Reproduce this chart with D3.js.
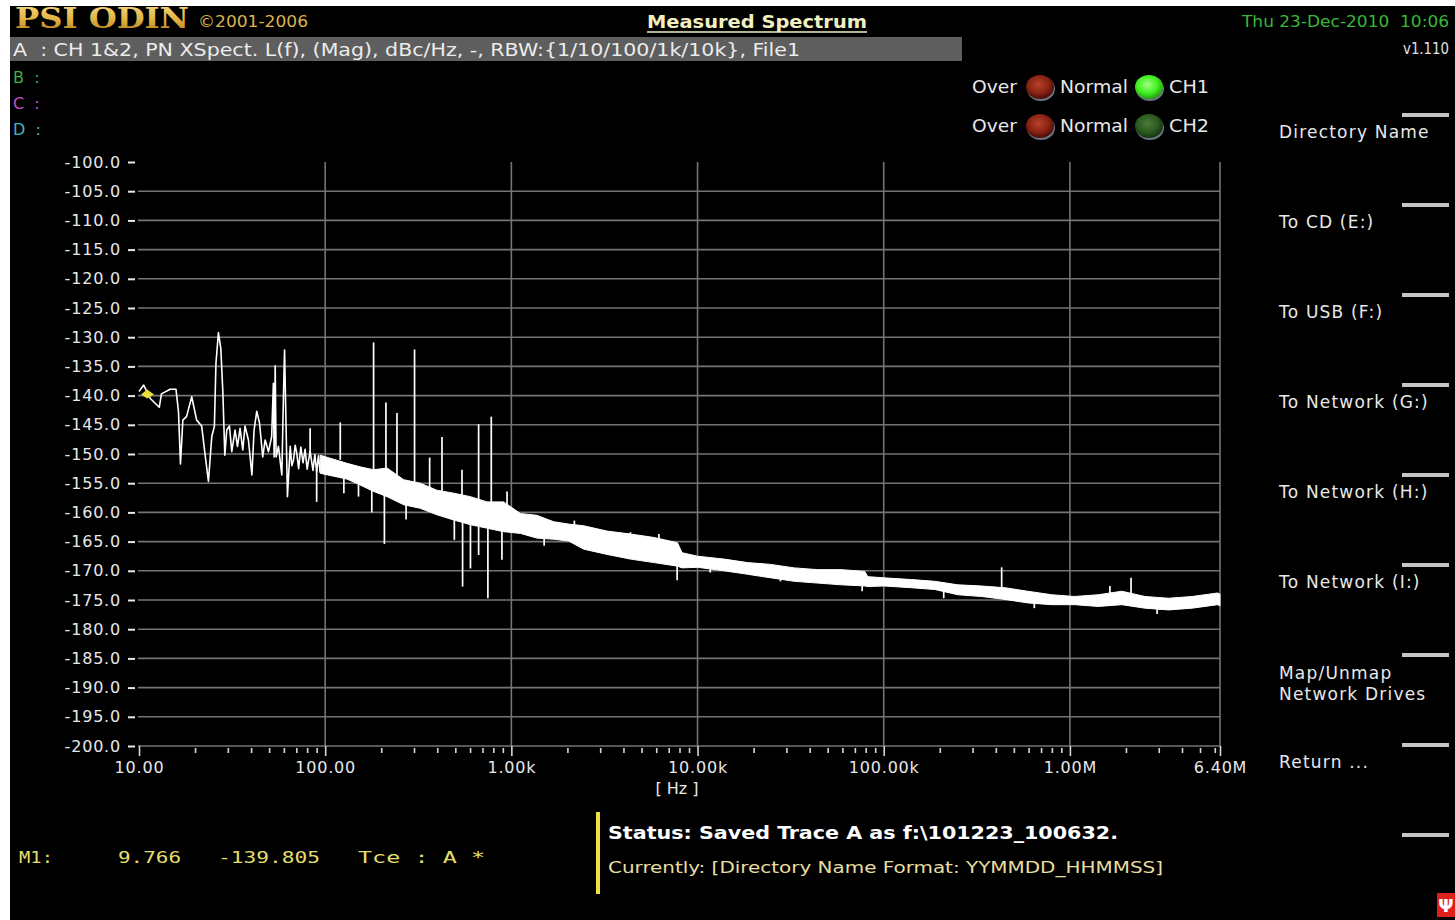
<!DOCTYPE html>
<html>
<head>
<meta charset="utf-8">
<script src="https://cdn.jsdelivr.net/npm/d3@7"></script>
<style>
html, body { margin: 0; padding: 0; background: #fff; }
svg { display: block; font-family: "DejaVu Sans", sans-serif; }
text { white-space: pre; }
</style>
</head>
<body>
<svg id="screen" width="1455" height="920"></svg>
<script>
// axis ticks
const xTicks = [10, 100, 1e3, 1e4, 1e5, 1e6, 6.4e6];
const xTickLabels = ['10.00', '100.00', '1.00k', '10.00k', '100.00k', '1.00M', '6.40M'];
const xMinorTicks = [20, 30, 40, 50, 60, 70, 80, 90,
	200, 300, 400, 500, 600, 700, 800, 900,
	2e3, 3e3, 4e3, 5e3, 6e3, 7e3, 8e3, 9e3,
	2e4, 3e4, 4e4, 5e4, 6e4, 7e4, 8e4, 9e4,
	2e5, 3e5, 4e5, 5e5, 6e5, 7e5, 8e5, 9e5,
	2e6, 3e6, 4e6, 5e6, 6e6];
const xGrid = [100, 1e3, 1e4, 1e5, 1e6, 6.4e6];
const yTicks = [-100, -105, -110, -115, -120, -125, -130, -135, -140, -145, -150,
	-155, -160, -165, -170, -175, -180, -185, -190, -195, -200];

// low offset trace, 10 Hz .. ~95 Hz  [Hz, dBc/Hz]
const lowTrace = [
	[10.0, -139.3], [10.6, -138.2], [11.5, -140.5], [12.85, -142.0], [13.2, -139.7],
	[14.7, -138.9], [15.8, -138.9], [16.3, -142.8], [16.7, -151.7], [17.2, -144.2],
	[18.0, -143.6], [19.2, -140.2], [20.4, -144.2], [21.7, -145.2], [22.6, -149.9],
	[23.6, -154.7], [24.6, -147.0], [25.4, -145.3], [25.9, -134.5], [26.7, -129.2],
	[27.5, -131.9], [28.2, -139.3], [28.9, -150.2], [29.6, -145.9], [30.6, -145.2],
	[31.5, -149.6], [32.8, -145.9], [33.8, -148.7], [34.9, -145.6], [36.1, -149.3],
	[37.1, -145.2], [38.7, -147.6], [40.4, -153.6], [41.5, -145.9], [42.9, -142.7],
	[44.4, -144.7], [46.2, -150.5], [47.6, -147.6], [49.6, -149.6], [51.6, -147.0],
	[52.7, -137.9], [53.2, -150.5], [53.9, -134.9], [54.5, -150.5], [56.1, -148.7],
	[58.5, -153.6], [59.7, -139.9], [60.5, -132.2], [61.5, -143.6], [62.7, -157.3],
	[64.9, -148.7], [66.2, -152.0], [67.6, -151.0], [69.0, -148.5], [70.4, -149.9],
	[72.0, -152.5], [74.0, -148.8], [76.0, -151.5], [78.0, -149.2], [80.0, -152.6],
	[83.0, -149.5], [86.0, -152.8], [88.0, -150.1], [90.0, -153.0], [92.0, -150.3],
	[94.0, -153.2]
];

// dense noise band: frequency, upper and lower edge
const bandFreq = [94, 111, 131, 154, 182, 215, 264, 324, 398, 490, 602, 740, 909,
	1120, 1370, 1690, 2030, 2450, 3270, 4360, 5850, 7800, 8260, 10000, 13900, 18600, 24700,
	33100, 44200, 59100, 79100, 82000, 100000, 141000, 188000, 250000, 335000, 448000,
	594000, 798000, 1.06e6, 1.42e6, 1.9e6, 2.53e6, 3.39e6, 4.53e6, 6.22e6, 6.4e6];
const bandTop = [-150.2, -150.9, -151.6, -152.2, -152.7, -152.4, -154.4, -155.0,
	-156.2, -156.7, -157.3, -158.2, -158.2, -160.2, -160.5, -161.6, -162.0, -162.3, -163.2,
	-163.7, -164.3, -165.2, -166.9, -167.5, -168.0, -168.6, -168.9, -169.5, -169.8, -169.8,
	-170.1, -171.0, -171.2, -171.5, -171.8, -172.4, -172.6, -172.9, -173.5, -174.1, -174.4,
	-174.1, -173.5, -174.4, -174.7, -174.4, -173.8, -174.0];
const bandBottom = [-153.3, -153.8, -154.3, -155.3, -156.4, -157.3, -158.7, -159.3,
	-160.4, -161.3, -162.1, -162.7, -163.3, -163.6, -164.4, -164.6, -164.9, -166.3, -167.2,
	-168.0, -168.6, -169.2, -169.5, -169.4, -170.0, -170.6, -171.2, -171.8, -172.1, -172.4,
	-172.6, -172.7, -172.6, -172.9, -173.2, -174.1, -174.4, -174.9, -175.5, -175.8, -175.8,
	-176.1, -175.8, -176.4, -176.7, -176.4, -175.8, -176.0];

// spurs rising out of the band
const spurFreq = [83, 120.5, 182, 212, 243, 302, 364, 424, 543, 667, 780, 948, 2180, 4360, 6200,
	82000, 430000, 1.64e6, 2.13e6];
const spurPeak = [-145.6, -144.6, -130.9, -141.2, -143.0, -132.1, -150.6, -147.1, -152.7, -144.9,
	-143.6, -156.4, -161.4, -163.4, -163.7, -171.0, -169.4, -172.6, -171.2];
const spurBase = [-150, -151, -153, -153, -154, -155, -156, -157, -157.5, -158, -158.5, -159,
	-162.5, -164, -165, -171.5, -173.5, -174.5, -174.5];

// downward dips below the band
const dipFreq = [90, 126, 151, 178, 208, 272, 494, 547, 603, 667, 748, 890, 1500, 7770, 11700,
	27900, 76600, 210000, 644000, 2.94e6];
const dipLow = [-158.2, -156.7, -157.3, -160.0, -165.4, -161.2, -164.7, -172.7, -169.6, -167.3,
	-174.7, -168.1, -165.7, -171.6, -170.3, -171.8, -173.5, -174.7, -176.4, -177.4];
const dipBase = [-152.5, -153.5, -154.5, -156, -157, -158.5, -161, -161.5, -162, -162.5, -162.7,
	-163.2, -164.2, -169, -169.5, -171, -172.5, -173.5, -175.5, -176.5];

const markerFreq = 9.766;
const markerLevel = -139.805;

const menuItems = [['Directory Name'], ['To CD (E:)'], ['To USB (F:)'], ['To Network (G:)'],
	['To Network (H:)'], ['To Network (I:)'], ['Map/Unmap', 'Network Drives'], ['Return ...']];

const svg = d3.select('#screen');

const x = d3.scaleLog().domain([10, 6.4e6]).range([139, 1220]);
const y = d3.scaleLinear().domain([-200, -100]).range([746, 162]);

const gridColor = '#747474';
const labelColor = '#e8e8e8';

// screen background (thin white border at top/left of the photo)
svg.append('rect').attr('width', 1455).attr('height', 920).attr('fill', '#fff');
svg.append('rect').attr('x', 10).attr('y', 6).attr('width', 1445).attr('height', 914).attr('fill', '#000');

let defs = svg.append('defs');
let gold = defs.append('linearGradient').attr('id', 'gold').attr('x1', 0).attr('y1', 0).attr('x2', 0).attr('y2', 1);
gold.append('stop').attr('offset', '0%').attr('stop-color', '#f6dc84');
gold.append('stop').attr('offset', '55%').attr('stop-color', '#e0b040');
gold.append('stop').attr('offset', '100%').attr('stop-color', '#b07818');

function ledGradient(id, light, mid, dark) {
	let g = defs.append('radialGradient').attr('id', id)
		.attr('cx', '45%').attr('cy', '40%').attr('r', '60%');
	g.append('stop').attr('offset', '0%').attr('stop-color', light);
	g.append('stop').attr('offset', '60%').attr('stop-color', mid);
	g.append('stop').attr('offset', '100%').attr('stop-color', dark);
}
ledGradient('ledRed', '#b8402c', '#8a2414', '#4c0c06');
ledGradient('ledGreen', '#a0ff80', '#40f020', '#22a010');
ledGradient('ledDark', '#4a7a3a', '#2c5a20', '#163410');

// header
svg.append('text')
	.attr('x', 15).attr('y', 28)
	.attr('font-family', '"DejaVu Serif", serif').attr('font-weight', 'bold').attr('font-size', 27)
	.attr('textLength', 174).attr('lengthAdjust', 'spacingAndGlyphs')
	.attr('fill', 'url(#gold)')
	.text('PSI ODIN');
svg.append('text')
	.attr('x', 198).attr('y', 27)
	.attr('font-size', 16).attr('fill', '#dcb44c')
	.attr('textLength', 110).attr('lengthAdjust', 'spacingAndGlyphs')
	.text('\u00a92001-2006');
svg.append('text')
	.attr('x', 757).attr('y', 28)
	.attr('text-anchor', 'middle')
	.attr('font-weight', 'bold').attr('font-size', 18).attr('fill', '#f2f0c0')
	.attr('textLength', 220).attr('lengthAdjust', 'spacingAndGlyphs')
	.text('Measured Spectrum');
svg.append('line')
	.attr('x1', 647).attr('x2', 867).attr('y1', 32).attr('y2', 32)
	.attr('stroke', '#f2f0c0').attr('stroke-width', 1.5);
svg.append('text')
	.attr('x', 1449).attr('y', 27)
	.attr('text-anchor', 'end')
	.attr('font-size', 16).attr('fill', '#38b838')
	.attr('textLength', 207).attr('lengthAdjust', 'spacingAndGlyphs')
	.text('Thu 23-Dec-2010  10:06');

svg.append('rect')
	.attr('x', 10).attr('y', 37).attr('width', 952).attr('height', 24)
	.attr('fill', '#5e5e5e');
svg.append('text')
	.attr('x', 13).attr('y', 56)
	.attr('font-size', 17).attr('fill', '#ececec')
	.attr('textLength', 787).attr('lengthAdjust', 'spacingAndGlyphs')
	.text('A  : CH 1&2, PN XSpect. L(f), (Mag), dBc/Hz, -, RBW:{1/10/100/1k/10k}, File1');
svg.append('text')
	.attr('x', 1449).attr('y', 54)
	.attr('text-anchor', 'end')
	.attr('font-size', 15).attr('fill', '#e0e0e0')
	.attr('textLength', 46).attr('lengthAdjust', 'spacingAndGlyphs')
	.text('v1.110');

[['B  :', '#3cb040', 83], ['C  :', '#c050c0', 109], ['D  :', '#40b4c4', 135]].forEach((d) => {
	svg.append('text')
		.attr('x', 13).attr('y', d[2])
		.attr('font-size', 16).attr('fill', d[1])
		.text(d[0]);
});

// over / normal indicators
[[87, 'CH1', 'url(#ledGreen)'], [126, 'CH2', 'url(#ledDark)']].forEach((row) => {
	let cy = row[0];
	let g = svg.append('g').attr('font-size', 18).attr('fill', labelColor);
	g.append('text').attr('x', 972).attr('y', cy + 6).attr('textLength', 45).attr('lengthAdjust', 'spacingAndGlyphs').text('Over');
	g.append('text').attr('x', 1060).attr('y', cy + 6).attr('textLength', 68).attr('lengthAdjust', 'spacingAndGlyphs').text('Normal');
	g.append('text').attr('x', 1169).attr('y', cy + 6).attr('textLength', 40).attr('lengthAdjust', 'spacingAndGlyphs').text(row[1]);
	[[1040, 'url(#ledRed)'], [1149, row[2]]].forEach((led) => {
		g.append('ellipse')
			.attr('cx', led[0] + 1).attr('cy', cy + 2).attr('rx', 14).attr('ry', 12)
			.attr('fill', '#6a7484');
		g.append('ellipse')
			.attr('cx', led[0]).attr('cy', cy).attr('rx', 14).attr('ry', 12)
			.attr('fill', led[1]);
	});
});

// right soft-key menu
menuItems.forEach((item, i) => {
	let top = 115 + i * 90;
	item.forEach((line, j) => {
		svg.append('text')
			.attr('x', 1279).attr('y', top + (item.length > 1 ? 24 + j * 21 : 23))
			.attr('font-size', 17).attr('letter-spacing', 1.2).attr('fill', labelColor)
			.text(line);
	});
});
d3.range(9).forEach((i) => {
	svg.append('rect')
		.attr('x', 1402).attr('y', 113 + i * 90).attr('width', 47).attr('height', 4)
		.attr('fill', '#c4c4c4');
});

// grid
let grid = svg.append('g');
grid.selectAll('.hgrid')
	.data(yTicks.filter((d) => d !== -100))
	.enter().append('line')
	.attr('x1', x(10) - 1).attr('x2', x(6.4e6))
	.attr('y1', (d) => y(d)).attr('y2', (d) => y(d))
	.attr('stroke', gridColor).attr('stroke-width', 1.6);
grid.selectAll('.vgrid')
	.data(xGrid)
	.enter().append('line')
	.attr('x1', (d) => x(d)).attr('x2', (d) => x(d))
	.attr('y1', y(-100)).attr('y2', y(-200))
	.attr('stroke', gridColor).attr('stroke-width', 1.6);

// axes
let yAxis = svg.append('g')
	.attr('transform', 'translate(136,0)')
	.call(d3.axisLeft(y).tickValues(yTicks).tickSize(8).tickPadding(7).tickFormat(d3.format('.1f')));
yAxis.select('.domain').remove();
yAxis.selectAll('.tick line').attr('stroke', labelColor).attr('stroke-width', 2).attr('x1', -1).attr('x2', -8);
yAxis.selectAll('.tick text')
	.attr('fill', labelColor).attr('font-size', 16).attr('letter-spacing', 0.8)
	.attr('font-family', '"DejaVu Sans", sans-serif')
	.text((d) => d3.format('.1f')(d).replace('\u2212', '-'));

let xMinor = svg.append('g')
	.attr('transform', 'translate(0,' + y(-200) + ')')
	.call(d3.axisBottom(x).tickValues(xMinorTicks).tickSize(7).tickFormat(''));
xMinor.select('.domain').remove();
xMinor.selectAll('.tick line').attr('stroke', '#d8d8d8').attr('stroke-width', 1.6).attr('y1', 2);

let xAxis = svg.append('g')
	.attr('transform', 'translate(0,' + y(-200) + ')')
	.call(d3.axisBottom(x).tickValues(xTicks).tickSize(10).tickPadding(6).tickFormat((d, i) => xTickLabels[i]));
xAxis.select('.domain').remove();
xAxis.selectAll('.tick line').attr('stroke', '#d8d8d8').attr('stroke-width', 1.6);
xAxis.selectAll('.tick text')
	.attr('fill', labelColor).attr('font-size', 16).attr('letter-spacing', 0.8)
	.attr('font-family', '"DejaVu Sans", sans-serif');

svg.append('text')
	.attr('x', 677).attr('y', 794)
	.attr('text-anchor', 'middle')
	.attr('font-size', 16).attr('fill', labelColor)
	.text('[ Hz ]');

// trace
let plot = svg.append('g');
plot.append('path')
	.datum(bandFreq.map((f, i) => [f, bandTop[i], bandBottom[i]]))
	.attr('d', d3.area().x((d) => x(d[0])).y0((d) => y(d[2])).y1((d) => y(d[1])))
	.attr('fill', '#fff').attr('stroke', '#fff').attr('stroke-width', 1);
plot.selectAll('.spur')
	.data(spurFreq)
	.enter().append('line')
	.attr('x1', (d) => x(d)).attr('x2', (d) => x(d))
	.attr('y1', (d, i) => y(spurBase[i])).attr('y2', (d, i) => y(spurPeak[i]))
	.attr('stroke', '#fff').attr('stroke-width', 1.7);
plot.selectAll('.dip')
	.data(dipFreq)
	.enter().append('line')
	.attr('x1', (d) => x(d)).attr('x2', (d) => x(d))
	.attr('y1', (d, i) => y(dipBase[i])).attr('y2', (d, i) => y(dipLow[i]))
	.attr('stroke', '#fff').attr('stroke-width', 1.7);
plot.append('path')
	.datum(lowTrace)
	.attr('d', d3.line().x((d) => x(d[0])).y((d) => y(d[1])))
	.attr('fill', 'none').attr('stroke', '#fff').attr('stroke-width', 1.6)
	.attr('stroke-linejoin', 'round');

// marker M1
let mx = x(markerFreq) + 4, my = y(markerLevel);
plot.append('path')
	.attr('d', 'M' + mx + ',' + my + 'l6,-5l7,5l-7,4z')
	.attr('fill', '#e8e038');

// marker readout
let mono = svg.append('g')
	.attr('font-family', '"DejaVu Sans Mono", monospace').attr('font-size', 16).attr('fill', '#e2de6a');
[['M1:', 19, 34], ['9.766', 118, 63], ['-139.805', 218, 102], ['Tce : A *', 358, 127]].forEach((d) => {
	mono.append('text')
		.attr('x', d[1]).attr('y', 863)
		.attr('textLength', d[2]).attr('lengthAdjust', 'spacingAndGlyphs')
		.text(d[0]);
});

// status
svg.append('rect')
	.attr('x', 596).attr('y', 812).attr('width', 4).attr('height', 82)
	.attr('fill', '#eee040');
svg.append('text')
	.attr('x', 608).attr('y', 839)
	.attr('font-family', '"DejaVu Sans Condensed", "DejaVu Sans", sans-serif')
	.attr('font-weight', 'bold').attr('font-size', 17).attr('fill', '#fff')
	.attr('textLength', 510).attr('lengthAdjust', 'spacingAndGlyphs')
	.text('Status: Saved Trace A as f:\\101223_100632.');
svg.append('text')
	.attr('x', 608).attr('y', 873)
	.attr('font-family', '"DejaVu Sans Condensed", "DejaVu Sans", sans-serif')
	.attr('font-size', 16).attr('fill', '#e8dea2')
	.attr('textLength', 555).attr('lengthAdjust', 'spacingAndGlyphs')
	.text('Currently: [Directory Name Format: YYMMDD_HHMMSS]');

// logo corner
svg.append('rect')
	.attr('x', 1437).attr('y', 893).attr('width', 18).attr('height', 24)
	.attr('fill', '#e0201c');
svg.append('text')
	.attr('x', 1446).attr('y', 912)
	.attr('text-anchor', 'middle')
	.attr('font-weight', 'bold').attr('font-size', 18).attr('fill', '#fff')
	.text('\u03a8');
</script>
</body>
</html>
